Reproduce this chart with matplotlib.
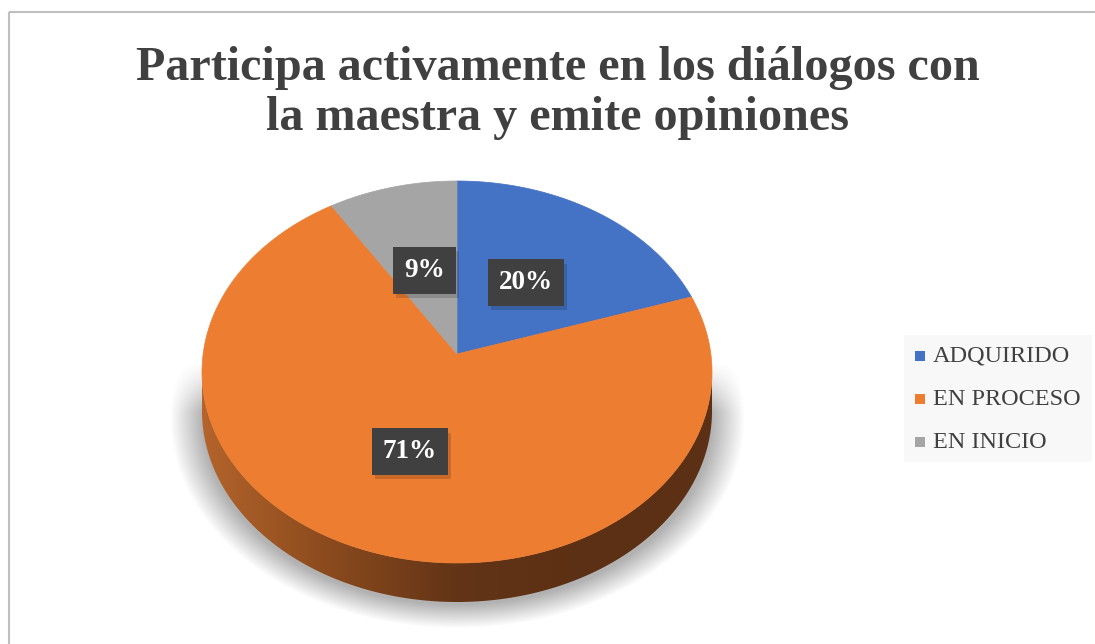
import numpy as np
import matplotlib
matplotlib.use("Agg")
import matplotlib.pyplot as plt
from matplotlib.patches import Polygon, Rectangle
from matplotlib.colors import LinearSegmentedColormap
from matplotlib.transforms import Affine2D
import matplotlib.patheffects as pe

# data
labels = ["ADQUIRIDO", "EN PROCESO", "EN INICIO"]
values = [20, 71, 9]
pct_text = ["20%", "71%", "9%"]
colors = ["#4472C4", "#ED7D31", "#A5A5A5"]
title = "Participa activamente en los diálogos con\nla maestra y emite opiniones"

plt.rcParams["font.family"] = ["Liberation Serif", "DejaVu Serif"]

W, H = 1095, 644
fig = plt.figure(figsize=(W / 100, H / 100), dpi=100)
ax = fig.add_axes([0, 0, 1, 1])
ax.set_xlim(0, W)
ax.set_ylim(H, 0)
ax.axis("off")

# chart frame
ax.add_patch(Rectangle((9, 12), W + 20, H + 20, fill=False, ec="#bfbfbf", lw=1.5))

# pie geometry (pixels); apex sits a bit above the ellipse centre (3d tilt)
cx, cy, rx, ry, depth = 457, 372, 255, 191, 39
apex = 18 / ry
to_pix = Affine2D().scale(rx, -ry).translate(cx, cy) + ax.transData


def ray_len(th):
    # distance from apex to the rim along angle th (normalised coords)
    s = np.sin(th)
    return -apex * s + np.sqrt(apex ** 2 * s ** 2 - apex ** 2 + 1)


def rim_angle(th):
    s = ray_len(th)
    return np.arctan2(apex + s * np.sin(th), s * np.cos(th))


# soft shadow under the pie
gx, gy = np.meshgrid(np.arange(160, 760), np.arange(300, 640))
r = np.sqrt(((gx - cx) / (rx + 16)) ** 2 + ((gy - cy - depth - 8) / (ry + 6)) ** 2)
a = np.clip((1.06 - r) / 0.12, 0, 1) * np.clip((gy - cy + 10) / 50, 0, 1) * 0.45
shade = np.zeros(gx.shape + (4,))
shade[..., :3] = 0.33
shade[..., 3] = a
ax.imshow(shade, extent=(160, 760, 640, 300), zorder=1, interpolation="bilinear")

# wedge angles, clockwise from the top
total = sum(values)
starts, ends = [], []
ang = 90.0
for v in values:
    sweep = 360.0 * v / total
    starts.append(ang - sweep)
    ends.append(ang)
    ang -= sweep

# side walls (front half only)
side_cmap = LinearSegmentedColormap.from_list(
    "side", ["#b4642c", "#8a4a1d", "#633417", "#5c3014", "#5c3014"])
for t1, t2, c in zip(starts, ends, colors):
    p1 = np.degrees(rim_angle(np.radians(t1)))
    p2 = np.degrees(rim_angle(np.radians(t2)))
    if p2 < p1:
        p2 += 360
    for k in (-360, 0, 360):
        lo, hi = max(p1 + k, 180), min(p2 + k, 360)
        if hi <= lo:
            continue
        t = np.radians(np.linspace(lo, hi, 200))
        xs = cx + rx * np.cos(t)
        ys = cy - ry * np.sin(t)
        pts = np.column_stack([np.r_[xs, xs[::-1]], np.r_[ys, ys[::-1] + depth]])
        poly = Polygon(pts, closed=True, fc="none", ec="none", zorder=2)
        ax.add_patch(poly)
        grad = np.linspace(0, 1, 256)[None, :]
        im = ax.imshow(grad, cmap=side_cmap, extent=(cx - rx, cx + rx, cy + ry + depth, cy - 5),
                       aspect="auto", zorder=2)
        im.set_clip_path(poly)

# top face
for t1, t2, c in zip(starts, ends, colors):
    p1 = rim_angle(np.radians(t1))
    p2 = rim_angle(np.radians(t2))
    if p2 < p1:
        p2 += 2 * np.pi
    t = np.linspace(p1, p2, 300)
    pts = np.vstack([[0, apex], np.column_stack([np.cos(t), np.sin(t)])])
    ax.add_patch(Polygon(pts, closed=True, fc=c, ec=c, lw=0.5, transform=to_pix, zorder=3))

# data labels
for t1, t2, s in zip(starts, ends, pct_text):
    mid = np.radians((t1 + t2) / 2)
    d = 0.5 * ray_len(mid)
    lx = cx + d * rx * np.cos(mid)
    ly = cy - (apex + d * np.sin(mid)) * ry
    txt = ax.text(lx, ly, s, fontsize=19.5, fontweight="bold", color="white", ha="center", va="center",
                  bbox=dict(boxstyle="square,pad=0.4", fc="#404040", ec="none"), zorder=5)
    txt.get_bbox_patch().set_path_effects(
        [pe.SimplePatchShadow(offset=(2, -3), shadow_rgbFace="black", alpha=0.15), pe.Normal()])

# title
ax.text(558, 93, title, fontsize=34.7, fontweight="bold", color="#404040", ha="center", va="center",
        linespacing=1.2, zorder=5)

# legend
ax.add_patch(Rectangle((904, 335), 188, 127, fc="#f8f8f8", ec="none", zorder=1))
for i, (lab, c) in enumerate(zip(labels, colors)):
    y = 356 + i * 43
    ax.add_patch(Rectangle((915, y - 5), 10, 10, fc=c, ec="none", zorder=2))
    ax.text(933, y, lab, fontsize=17.5, color="#404040", ha="left", va="center", zorder=2)

fig.savefig("out.png", dpi=100)
